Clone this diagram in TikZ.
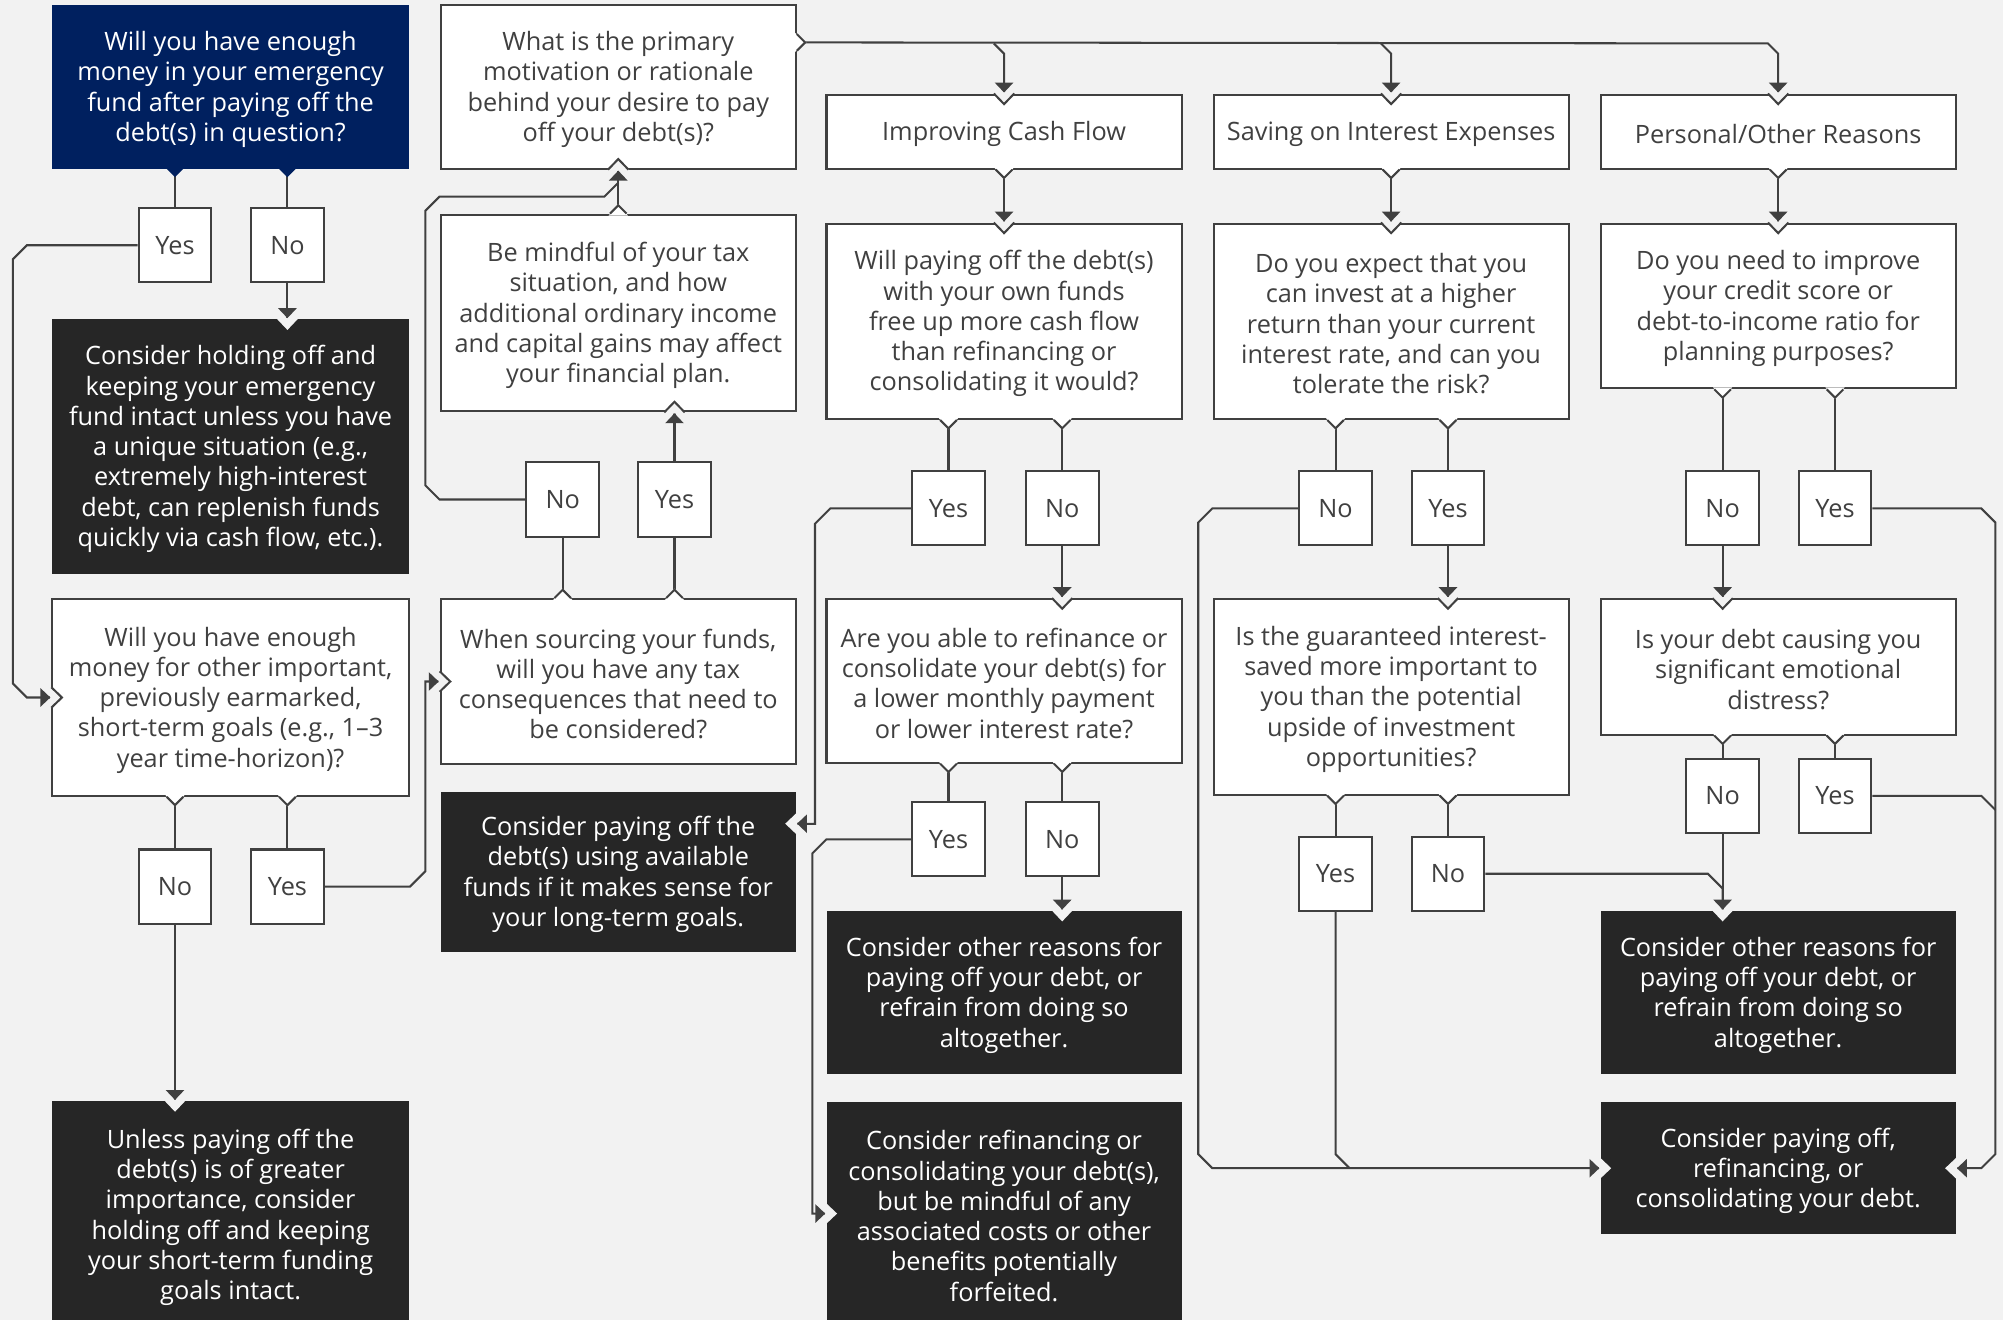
\documentclass[tikz,border=0pt]{standalone}
\usepackage{fontspec}
\setmainfont{Open Sans}
\usepackage{tikz}
\usetikzlibrary{calc}

\definecolor{bgc}{HTML}{F2F2F2}
\definecolor{linec}{HTML}{404040}
\definecolor{boxdark}{HTML}{262626}
\definecolor{navy}{HTML}{00205F}

% taller first line, pushes box text a little down
\newcommand{\lift}{\rule{0pt}{19pt}}

% arrow tip with a notch cut into a white box
\newcommand{\inwhite}[2]{%
  \begin{scope}[shift={#1}, rotate=#2]
    \fill[bgc] (-1,-9) -- (9.3,0) -- (-1,9) -- cycle;
    \draw[linec, line width=1.6pt] (0,-8) -- (8.3,0) -- (0,8);
    \fill[linec] (-8.5,-7.3) -- (-0.8,0) -- (-8.5,7.3) -- cycle;
  \end{scope}}
% arrow tip with a notch cut into a dark box
\newcommand{\indark}[2]{%
  \begin{scope}[shift={#1}, rotate=#2]
    \fill[bgc] (-1,-9) -- (8.5,0) -- (-1,9) -- cycle;
    \fill[linec] (-8.5,-7.3) -- (-0.8,0) -- (-8.5,7.3) -- cycle;
  \end{scope}}
% bump where a line leaves a white box
\newcommand{\outwhite}[2]{%
  \begin{scope}[shift={#1}, rotate=#2]
    \fill[white] (-1.5,-7.5) -- (7.5,0) -- (-1.5,7.5) -- cycle;
    \draw[linec, line width=1.6pt] (0,-6.5) -- (6.5,0) -- (0,6.5);
  \end{scope}}
% bump where a line leaves the blue box
\newcommand{\outblue}[2]{%
  \begin{scope}[shift={#1}, rotate=#2]
    \fill[navy] (-1,-7.5) -- (6.5,0) -- (-1,7.5) -- cycle;
  \end{scope}}

\begin{document}
\begin{tikzpicture}[x=1pt, y=-1pt,
  font=\fontsize{19.8}{23.7}\selectfont,
  qbox/.style={draw=linec, line width=1.6pt, fill=white, text=linec, align=center, inner sep=0pt, minimum width=278pt},
  darkbox/.style={fill=boxdark, text=white, align=center, inner sep=0pt, minimum width=278pt},
  navybox/.style={fill=navy, text=white, align=center, inner sep=0pt, minimum width=279pt},
  yn/.style={qbox, minimum width=57pt, minimum height=58pt},
  conn/.style={draw=linec, line width=1.6pt}]

\useasboundingbox (0,0) rectangle (1568,1033);
\clip (0,0) rectangle (1568,1033);
\fill[bgc] (0,0) rectangle (1568,1033);

% first column
\node[navybox, minimum height=128pt] (q1) at (180.5,68) {\lift Will you have enough\\money in your emergency\\fund after paying off the\\debt(s) in question?};
\node[yn] (yes1) at (137,192) {Yes};
\node[yn] (no1) at (225,192) {No};
\node[darkbox, minimum width=279pt, minimum height=199pt] (hold) at (180.5,349.5) {\lift Consider holding off and\\keeping your emergency\\fund intact unless you have\\a unique situation (e.g.,\\extremely high-interest\\debt, can replenish funds\\quickly via cash flow, etc.).};
\node[qbox, minimum width=279pt, minimum height=154pt] (q2) at (180.5,546) {\lift Will you have enough\\money for other important,\\previously earmarked,\\short-term goals (e.g., 1--3\\year time-horizon)?};
\node[yn] (no2) at (137,694) {No};
\node[yn] (yes2) at (225,694) {Yes};
\node[darkbox, minimum width=279pt, minimum height=178pt] (unless) at (180.5,951) {\lift Unless paying off the\\debt(s) is of greater\\importance, consider\\holding off and keeping\\your short-term funding\\goals intact.};

% second column
\node[qbox, minimum height=128pt] (motive) at (484,68) {\lift What is the primary\\motivation or rationale\\behind your desire to pay\\off your debt(s)?};
\node[qbox, minimum height=154pt] (mindful) at (484,245) {\lift Be mindful of your tax\\situation, and how\\additional ordinary income\\and capital gains may affect\\your financial plan.};
\node[yn] (no3) at (440.5,391) {No};
\node[yn] (yes3) at (528,391) {Yes};
\node[qbox, minimum height=129pt] (sourcing) at (484,533.5) {\lift When sourcing your funds,\\will you have any tax\\consequences that need to\\be considered?};
\node[darkbox, minimum height=125pt] (payoff) at (484,682.5) {\lift Consider paying off the\\debt(s) using available\\funds if it makes sense for\\your long-term goals.};

% third column
\node[qbox, minimum height=58pt] (cash) at (786,103) {\lift Improving Cash Flow};
\node[qbox, minimum height=153pt] (q3) at (786,251.5) {\lift Will paying off the debt(s)\\with your own funds\\free up more cash flow\\than refinancing or\\consolidating it would?};
\node[yn] (yes4) at (742.5,398) {Yes};
\node[yn] (no4) at (831.5,398) {No};
\node[qbox, minimum height=128pt] (refi) at (786,533) {\lift Are you able to refinance or\\consolidate your debt(s) for\\a lower monthly payment\\or lower interest rate?};
\node[yn] (yes5) at (742.5,657) {Yes};
\node[yn] (no5) at (831.5,657) {No};
\node[darkbox, minimum height=128pt] (other1) at (786,777) {\lift Consider other reasons for\\paying off your debt, or\\refrain from doing so\\altogether.};
\node[darkbox, minimum height=175pt] (consref) at (786,950) {\lift Consider refinancing or\\consolidating your debt(s),\\but be mindful of any\\associated costs or other\\benefits potentially\\forfeited.};

% fourth column
\node[qbox, minimum height=58pt] (interest) at (1089,103) {\lift Saving on Interest Expenses};
\node[qbox, minimum height=153pt] (q4) at (1089,251.5) {\lift Do you expect that you\\can invest at a higher\\return than your current\\interest rate, and can you\\tolerate the risk?};
\node[yn] (no6) at (1045.5,398) {No};
\node[yn] (yes6) at (1133.5,398) {Yes};
\node[qbox, minimum height=153pt] (guar) at (1089,545.5) {\lift Is the guaranteed interest-\\saved more important to\\you than the potential\\upside of investment\\opportunities?};
\node[yn] (yes7) at (1045.5,684) {Yes};
\node[yn] (no7) at (1133.5,684) {No};

% fifth column
\node[qbox, minimum height=58pt] (personal) at (1392,103) {\lift Personal/Other Reasons};
\node[qbox, minimum height=129pt] (q5) at (1392,239.5) {\lift Do you need to improve\\your credit score or\\debt-to-income ratio for\\planning purposes?};
\node[yn] (no8) at (1348.5,398) {No};
\node[yn] (yes8) at (1436.5,398) {Yes};
\node[qbox, minimum height=106pt] (distress) at (1392,522) {\lift Is your debt causing you\\significant emotional\\distress?};
\node[yn] (no9) at (1348.5,623) {No};
\node[yn] (yes9) at (1436.5,623) {Yes};
\node[darkbox, minimum height=128pt] (other2) at (1392,777) {\lift Consider other reasons for\\paying off your debt, or\\refrain from doing so\\altogether.};
\node[darkbox, minimum height=103pt] (final) at (1392,914.5) {\lift Consider paying off,\\refinancing, or\\consolidating your debt.};

% connectors
\draw[conn] (q1.south -| yes1.north) -- (yes1.north);
\draw[conn] (q1.south -| no1.north) -- (no1.north);
\draw[conn] (no1.south) -- (hold.north -| no1.south);
\draw[conn] (yes1.west) -- (21,192) -- (10,203) -- (10,535) -- (21,546) -- (q2.west);
\draw[conn] (q2.south -| no2.north) -- (no2.north);
\draw[conn] (q2.south -| yes2.north) -- (yes2.north);
\draw[conn] (no2.south) -- (unless.north -| no2.south);
\draw[conn] (yes2.east) -- (321,694) -- (333,682) -- (333,533.5) -- (sourcing.west);

\draw[conn] (sourcing.north -| no3.south) -- (no3.south);
\draw[conn] (sourcing.north -| yes3.south) -- (yes3.south);
\draw[conn] (yes3.north) -- (mindful.south -| yes3.north);
\draw[conn] (no3.west) -- (344,391) -- (333,380) -- (333,165) -- (344,154) -- (473,154) -- (484,143);
\draw[conn] (mindful.north) -- (motive.south);

\draw[conn] ($(motive.north east)+(0,30)$) -- (1384,34) -- (1392,42) -- (personal.north);
\draw[conn] (778,34) -- (786,42) -- (cash.north);
\draw[conn] (1081,34) -- (1089,42) -- (interest.north);
\draw[conn] (cash.south) -- (q3.north);
\draw[conn] (interest.south) -- (q4.north);
\draw[conn] (personal.south) -- (q5.north);

\draw[conn] (q3.south -| yes4.north) -- (yes4.north);
\draw[conn] (q3.south -| no4.north) -- (no4.north);
\draw[conn] (no4.south) -- (refi.north -| no4.south);
\draw[conn] (yes4.west) -- (650,398) -- (638,410) -- (638,645) -- ($(payoff.north east)+(0,25)$);
\draw[conn] (refi.south -| yes5.north) -- (yes5.north);
\draw[conn] (refi.south -| no5.north) -- (no5.north);
\draw[conn] (no5.south) -- (other1.north -| no5.south);
\draw[conn] (yes5.west) -- (647,657) -- (636,668) -- (636,950) -- (consref.west);

\draw[conn] (q4.south -| no6.north) -- (no6.north);
\draw[conn] (q4.south -| yes6.north) -- (yes6.north);
\draw[conn] (yes6.south) -- (guar.north -| yes6.south);
\draw[conn] (no6.west) -- (949,398) -- (938,409) -- (938,903.5) -- (949,914.5) -- (final.west);
\draw[conn] (guar.south -| yes7.north) -- (yes7.north);
\draw[conn] (guar.south -| no7.north) -- (no7.north);
\draw[conn] (yes7.south) -- (1045.5,903.5) -- (1056.5,914.5);
\draw[conn] (no7.east) -- (1337,684) -- (1348.5,695.5) -- (other2.north -| no9.south);

\draw[conn] (q5.south -| no8.north) -- (no8.north);
\draw[conn] (q5.south -| yes8.north) -- (yes8.north);
\draw[conn] (no8.south) -- (distress.north -| no8.south);
\draw[conn] (yes8.east) -- (1551,398) -- (1562,409) -- (1562,903.5) -- (1551,914.5) -- (final.east);
\draw[conn] (distress.south -| no9.north) -- (no9.north);
\draw[conn] (distress.south -| yes9.north) -- (yes9.north);
\draw[conn] (no9.south) -- (other2.north -| no9.south);
\draw[conn] (yes9.east) -- (1551,623) -- (1562,634);

% notches and arrow tips
\outblue{(q1.south -| yes1.north)}{270}
\outblue{(q1.south -| no1.north)}{270}
\indark{(hold.north -| no1.south)}{270}
\inwhite{(q2.west)}{0}
\outwhite{(q2.south -| no2.north)}{270}
\outwhite{(q2.south -| yes2.north)}{270}
\indark{(unless.north -| no2.south)}{270}
\inwhite{(sourcing.west)}{0}
\outwhite{(sourcing.north -| no3.south)}{90}
\outwhite{(sourcing.north -| yes3.south)}{90}
\inwhite{(mindful.south -| yes3.north)}{90}
\outwhite{(mindful.north)}{90}
\inwhite{(motive.south)}{90}
\outwhite{($(motive.north east)+(0,30)$)}{0}

\inwhite{(cash.north)}{270}
\inwhite{(interest.north)}{270}
\inwhite{(personal.north)}{270}
\outwhite{(cash.south)}{270}
\outwhite{(interest.south)}{270}
\outwhite{(personal.south)}{270}
\inwhite{(q3.north)}{270}
\inwhite{(q4.north)}{270}
\inwhite{(q5.north)}{270}

\outwhite{(q3.south -| yes4.north)}{270}
\outwhite{(q3.south -| no4.north)}{270}
\inwhite{(refi.north -| no4.south)}{270}
\indark{($(payoff.north east)+(0,25)$)}{180}
\outwhite{(refi.south -| yes5.north)}{270}
\outwhite{(refi.south -| no5.north)}{270}
\indark{(other1.north -| no5.south)}{270}
\indark{(consref.west)}{0}

\outwhite{(q4.south -| no6.north)}{270}
\outwhite{(q4.south -| yes6.north)}{270}
\inwhite{(guar.north -| yes6.south)}{270}
\indark{(final.west)}{0}
\outwhite{(guar.south -| yes7.north)}{270}
\outwhite{(guar.south -| no7.north)}{270}

\outwhite{(q5.south -| no8.north)}{270}
\outwhite{(q5.south -| yes8.north)}{270}
\inwhite{(distress.north -| no8.south)}{270}
\outwhite{(distress.south -| no9.north)}{270}
\outwhite{(distress.south -| yes9.north)}{270}
\indark{(other2.north -| no9.south)}{270}
\indark{(final.east)}{180}

\end{tikzpicture}
\end{document}
